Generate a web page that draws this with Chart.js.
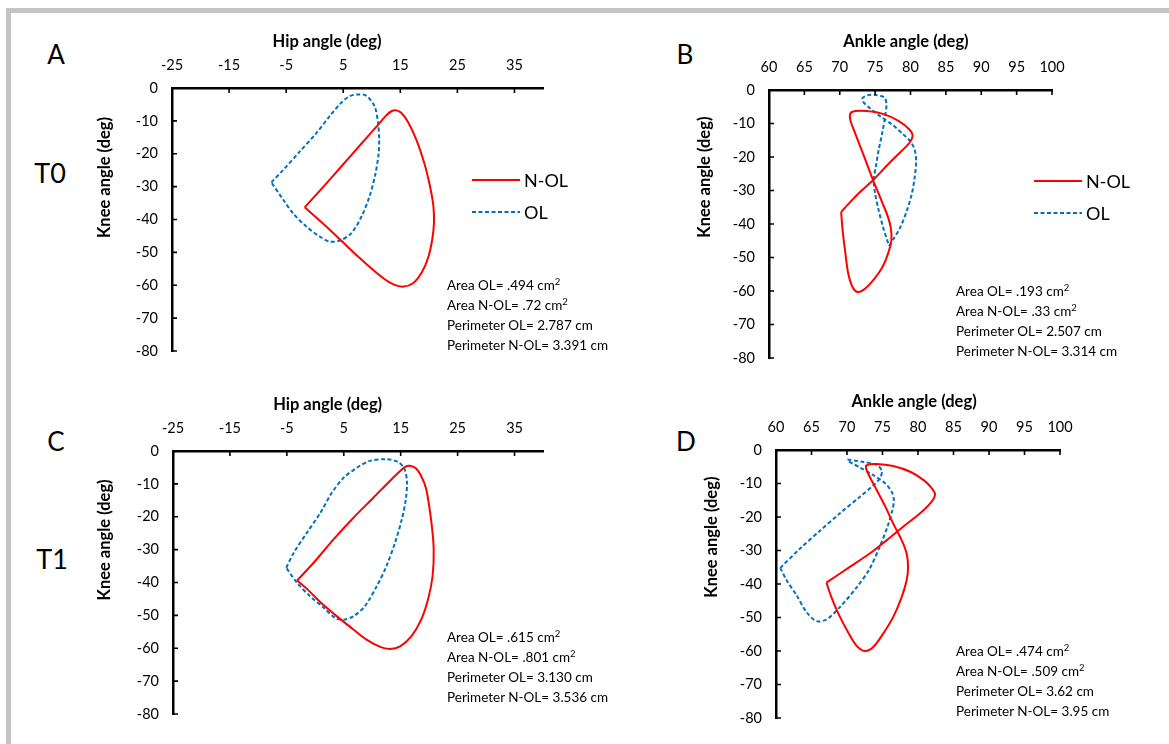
<!DOCTYPE html>
<html>
<head>
<meta charset="utf-8">
<script src="https://cdn.jsdelivr.net/npm/chart.js@4.4.1/dist/chart.umd.min.js"></script>
<style>
  body { margin: 0; background: #fff; font-family: Lato, "Open Sans", sans-serif; color: #000; }
  #fig { position: relative; width: 1169px; height: 744px; overflow: hidden; background: #fff; }
  .frame { position: absolute; background: #c4c4c4; }
  canvas { position: absolute; }
  .abs { position: absolute; white-space: nowrap; }
  .letter { font-size: 26px; line-height: 1; transform: translate(-50%, -50%); }
  .stats { font-size: 13.5px; line-height: 20px; }
  .stats sup { font-size: 9.5px; line-height: 0; vertical-align: 5px; }
  .leg { font-size: 18px; line-height: 1; transform: translateY(-50%); }
</style>
</head>
<body>
<div id="fig">
  <div class="frame" style="left:6px;top:8px;width:1163px;height:5px"></div>
  <div class="frame" style="left:6px;top:8px;width:5px;height:736px"></div>

  <canvas id="chartA"></canvas>
  <canvas id="chartB"></canvas>
  <canvas id="chartC"></canvas>
  <canvas id="chartD"></canvas>

  <div class="abs letter" style="left:56px;top:54px">A</div>
  <div class="abs letter" style="left:685px;top:54px">B</div>
  <div class="abs letter" style="left:56px;top:441px">C</div>
  <div class="abs letter" style="left:686px;top:441px">D</div>
  <div class="abs letter" style="left:50px;top:172px;font-size:27px">T0</div>
  <div class="abs letter" style="left:52px;top:558px;font-size:27px">T1</div>

  <div id="legendA"></div>
  <div id="legendB"></div>
  <div id="statsA" class="abs stats" style="left:447px;top:275px"></div>
  <div id="statsB" class="abs stats" style="left:956px;top:281px"></div>
  <div id="statsC" class="abs stats" style="left:447px;top:627px"></div>
  <div id="statsD" class="abs stats" style="left:956px;top:641px"></div>
</div>

<script>
// tick labels
let hipTicks = [-25, -15, -5, 5, 15, 25, 35];
let ankleTicks = [60, 65, 70, 75, 80, 85, 90, 95, 100];
let kneeTicks = [0, -10, -20, -30, -40, -50, -60, -70, -80];

// [hip or ankle angle, knee angle]; each loop starts at its corner
let hipT0_NOL = [
  [-1.75, -36.3], [1.5, -30.1], [4.7, -23.8], [7.9, -17.5], [11.1, -11.2], [12.5, -8.4],
  [13.5, -7.0], [14.3, -6.8], [15.2, -7.6], [16.3, -10.2], [17.8, -15.7], [19.2, -22.8],
  [20.2, -29.9], [20.8, -36.0], [20.9, -41.0], [20.6, -46.0], [19.9, -51.5], [18.8, -56.0],
  [17.3, -59.3], [15.6, -60.4], [14.0, -59.9], [12.2, -58.1], [10.2, -55.3], [7.3, -50.8],
  [4.4, -46.0], [1.5, -41.3],
];
let hipT0_OL = [
  [-7.6, -28.7], [-5.5, -24.9], [-2.6, -19.3], [0.3, -13.7], [2.6, -8.6], [4.7, -4.4],
  [6.1, -2.5], [7.3, -2.0], [9.0, -2.3], [10.5, -5.6], [11.1, -10.7], [11.3, -15.7],
  [11.2, -20.0], [10.6, -26.5], [9.6, -33.0], [8.2, -39.1], [6.4, -44.2], [4.4, -46.4],
  [2.6, -46.7], [0.9, -45.2], [-1.5, -42.1], [-3.8, -38.1], [-5.5, -34.0],
];
let ankleT0_NOL = [
  [70.2, -36.4], [70.4, -41.8], [70.8, -48.8], [71.2, -54.8], [71.8, -58.8], [72.5, -60.3],
  [73.4, -59.6], [74.8, -56.6], [76.0, -53.0], [76.8, -49.0], [77.3, -44.8], [77.2, -41.0],
  [76.7, -37.2], [76.0, -33.6], [75.4, -30.4], [74.8, -27.4], [73.9, -22.4], [73.0, -17.4],
  [72.1, -12.5], [71.5, -9.0], [71.5, -7.0], [72.2, -6.3], [73.8, -6.3], [76.2, -7.2],
  [78.3, -9.2], [79.8, -11.7], [80.3, -13.6], [79.8, -15.9], [78.3, -19.1], [76.6, -22.7],
  [74.8, -26.7], [72.9, -30.4], [71.5, -33.4],
];
let ankleT0_OL = [
  [77.0, -46.5], [77.5, -44.8], [78.6, -40.8], [79.5, -35.9], [80.2, -30.9], [80.6, -25.9],
  [80.8, -21.4], [80.6, -17.9], [80.0, -15.4], [78.8, -12.9], [77.4, -10.3], [75.7, -7.8],
  [74.3, -5.5], [73.4, -3.8], [73.2, -2.5], [73.9, -1.6], [75.0, -1.5], [76.3, -2.2],
  [76.6, -4.2], [76.4, -8.0], [76.0, -12.9], [75.5, -17.9], [75.1, -22.9], [74.8, -26.9],
  [75.0, -30.9], [75.5, -35.9], [76.1, -40.8], [76.7, -44.8],
];
let hipT1_NOL = [
  [-3.2, -39.4], [-0.3, -34.0], [3.2, -26.9], [6.7, -20.3], [10.2, -14.2], [13.1, -9.1],
  [14.9, -6.1], [15.8, -4.8], [16.6, -4.5], [17.6, -5.2], [18.6, -7.6], [19.5, -11.7],
  [20.4, -21.8], [20.8, -30.0], [20.6, -38.1], [19.8, -45.2], [18.6, -51.3], [16.9, -56.3],
  [14.9, -59.4], [13.1, -60.2], [11.4, -59.6], [9.0, -57.4], [6.7, -54.3], [3.8, -50.3],
  [0.9, -46.0], [-1.2, -42.4],
];
let hipT1_OL = [
  [-5.1, -35.5], [-3.8, -31.0], [-1.5, -24.9], [0.9, -18.8], [2.9, -12.7], [5.0, -8.1],
  [7.3, -5.1], [9.6, -3.0], [12.5, -2.5], [14.6, -3.4], [15.7, -5.6], [16.1, -9.5],
  [15.9, -14.7], [15.2, -20.8], [14.0, -27.9], [12.5, -35.0], [10.8, -41.1], [8.7, -47.2],
  [6.7, -50.3], [5.0, -51.3], [3.5, -50.8], [1.5, -47.7], [-0.9, -44.2], [-3.2, -40.1],
];
let ankleT1_NOL = [
  [67.1, -39.6], [67.8, -43.9], [68.8, -48.9], [70.0, -53.8], [71.3, -58.3], [72.5, -60.0],
  [73.7, -58.8], [75.1, -54.8], [76.5, -49.9], [77.7, -43.9], [78.4, -38.9], [78.6, -34.9],
  [78.4, -30.9], [77.7, -26.9], [76.5, -21.9], [75.4, -16.9], [74.2, -12.0], [73.2, -8.0],
  [72.7, -5.5], [72.8, -4.5], [74.2, -4.2], [76.5, -4.8], [78.9, -6.5], [80.8, -9.0],
  [81.9, -11.3], [82.4, -13.2], [81.9, -15.5], [80.3, -18.9], [77.9, -22.9], [75.6, -26.9],
  [73.2, -30.9], [70.4, -34.9],
];
let ankleT1_OL = [
  [60.6, -35.2], [61.5, -38.9], [62.9, -43.4], [64.3, -48.4], [65.7, -51.1], [67.1, -50.6],
  [69.0, -46.9], [71.4, -40.9], [73.2, -35.4], [74.6, -28.9], [75.7, -22.9], [76.4, -17.9],
  [76.6, -14.8], [76.3, -12.5], [75.4, -10.0], [73.7, -7.5], [71.8, -5.2], [70.05, -3.0],
  [72.3, -3.6], [74.2, -4.5], [74.9, -6.2], [74.7, -8.2], [73.9, -10.2], [71.8, -14.0],
  [69.0, -18.9], [66.2, -24.1], [63.4, -29.4],
];

// loop area / perimeter notes (^2 becomes a superscript)
let statsA = ["Area OL= .494 cm^2", "Area N-OL= .72 cm^2", "Perimeter OL= 2.787 cm", "Perimeter N-OL= 3.391 cm"];
let statsB = ["Area OL= .193 cm^2", "Area N-OL= .33 cm^2", "Perimeter OL= 2.507 cm", "Perimeter N-OL= 3.314 cm"];
let statsC = ["Area OL= .615 cm^2", "Area N-OL= .801 cm^2", "Perimeter OL= 3.130 cm", "Perimeter N-OL= 3.536 cm"];
let statsD = ["Area OL= .474 cm^2", "Area N-OL= .509 cm^2", "Perimeter OL= 3.62 cm", "Perimeter N-OL= 3.95 cm"];

let RED = "#ff0000";
let BLUE = "#0070c0";

// small tick marks pointing into the plot, like the original
let innerTicks = {
  id: "innerTicks",
  afterDraw(chart) {
    let { ctx, chartArea, scales } = chart;
    ctx.save();
    ctx.strokeStyle = "#000";
    ctx.lineWidth = 1.6;
    ctx.beginPath();
    scales.x.ticks.forEach((t) => {
      let px = scales.x.getPixelForValue(t.value);
      if (px > chartArea.left + 2) {
        ctx.moveTo(px, chartArea.top);
        ctx.lineTo(px, chartArea.top + 5);
      }
    });
    scales.y.ticks.forEach((t) => {
      let py = scales.y.getPixelForValue(t.value);
      if (py > chartArea.top + 2) {
        ctx.moveTo(chartArea.left, py);
        ctx.lineTo(chartArea.left + 5, py);
      }
    });
    ctx.stroke();
    ctx.restore();
  },
};

// axis titles: not centred on the axes in the original, so placed by hand
let axisTitles = {
  id: "axisTitles",
  afterDraw(chart, args, opts) {
    let { ctx, chartArea } = chart;
    let w = chartArea.right - chartArea.left;
    let h = chartArea.bottom - chartArea.top;
    ctx.save();
    ctx.font = "bold 16.5px Lato";
    ctx.fillStyle = "#000";
    ctx.textAlign = "center";
    ctx.textBaseline = "middle";
    ctx.fillText(opts.x, chartArea.left + opts.xFrac * w, chartArea.top - opts.xGap);
    ctx.translate(chartArea.left - opts.yGap, chartArea.top + opts.yFrac * h);
    ctx.rotate(-Math.PI / 2);
    ctx.fillText(opts.y, 0, 0);
    ctx.restore();
  },
};

// chart area wanted: A 172..543 x 88..351, B 769..1052 x 90..358,
// C 173..543 x 451..714, D 776..1060 x 450..718 (padding leaves room for edge labels)
renderPanel("#chartA", { left: 95, top: 26, w: 478, h: 351, yW: 77, xH: 62, padR: 30, padB: 26 },
  hipTicks, -25, 40, { x: "Hip angle (deg)", xFrac: 0.418, xGap: 46, y: "Knee angle (deg)", yFrac: 0.34, yGap: 67.5 },
  hipT0_NOL, hipT0_OL);
renderPanel("#chartB", { left: 696, top: 28, w: 386, h: 356, yW: 73, xH: 62, padR: 30, padB: 26 },
  ankleTicks, 60, 100, { x: "Ankle angle (deg)", xFrac: 0.484, xGap: 48, y: "Knee angle (deg)", yFrac: 0.325, yGap: 64 },
  ankleT0_NOL, ankleT0_OL);
renderPanel("#chartC", { left: 96, top: 389, w: 477, h: 351, yW: 77, xH: 62, padR: 30, padB: 26 },
  hipTicks, -25, 40, { x: "Hip angle (deg)", xFrac: 0.418, xGap: 46, y: "Knee angle (deg)", yFrac: 0.338, yGap: 68.5 },
  hipT1_NOL, hipT1_OL);
renderPanel("#chartD", { left: 703, top: 388, w: 387, h: 356, yW: 73, xH: 62, padR: 30, padB: 26 },
  ankleTicks, 60, 100, { x: "Ankle angle (deg)", xFrac: 0.486, xGap: 48, y: "Knee angle (deg)", yFrac: 0.325, yGap: 64 },
  ankleT1_NOL, ankleT1_OL);

renderLegend("#legendA", 472, 180);
renderLegend("#legendB", 1034, 181);
renderStats("#statsA", statsA);
renderStats("#statsB", statsB);
renderStats("#statsC", statsC);
renderStats("#statsD", statsD);

function toPoints(loop) {
  // close the loop by going back to the first point
  return loop.concat([loop[0]]).map((p) => ({ x: p[0], y: p[1] }));
}

function renderPanel(id, box, xTicks, xMin, xMax, titles, nol, ol) {
  let cv = document.querySelector(id);
  cv.width = box.w;
  cv.height = box.h;
  cv.style.left = box.left + "px";
  cv.style.top = box.top + "px";

  let tickFont = { family: "Lato", size: 14.5 };

  new Chart(cv, {
    type: "scatter",
    data: {
      datasets: [
        {
          label: "N-OL",
          data: toPoints(nol),
          showLine: true,
          borderColor: RED,
          borderWidth: 2,
          pointRadius: 0,
          tension: 0.3,
          fill: false,
        },
        {
          label: "OL",
          data: toPoints(ol),
          showLine: true,
          borderColor: BLUE,
          borderWidth: 2,
          borderDash: [4, 2.5],
          pointRadius: 0,
          tension: 0.3,
          fill: false,
        },
      ],
    },
    plugins: [innerTicks, axisTitles],
    options: {
      responsive: false,
      animation: false,
      events: [],
      layout: { padding: { left: 0, top: 0, right: box.padR, bottom: box.padB } },
      plugins: {
        legend: { display: false },
        tooltip: { enabled: false },
        axisTitles: titles,
      },
      scales: {
        x: {
          type: "linear",
          position: "top",
          min: xMin,
          max: xMax,
          afterBuildTicks: (s) => { s.ticks = xTicks.map((v) => ({ value: v })); },
          afterFit: (s) => { s.height = box.xH; },
          grid: { display: false, drawTicks: false },
          border: { display: true, color: "#000", width: 2.5 },
          ticks: { color: "#000", font: tickFont, padding: 14, maxRotation: 0, autoSkip: false },
        },
        y: {
          type: "linear",
          min: -80,
          max: 0,
          afterBuildTicks: (s) => { s.ticks = kneeTicks.map((v) => ({ value: v })); },
          afterFit: (s) => { s.width = box.yW; },
          grid: { display: false, drawTicks: false },
          border: { display: true, color: "#000", width: 2.5 },
          ticks: { color: "#000", font: tickFont, padding: 14, autoSkip: false },
        },
      },
    },
  });
}

function renderLegend(id, x, y) {
  let el = document.querySelector(id);
  el.innerHTML =
    '<svg class="abs" style="left:' + x + 'px;top:' + (y - 3) + 'px" width="48" height="6">' +
    '<line x1="0" y1="3" x2="48" y2="3" stroke="' + RED + '" stroke-width="2"/></svg>' +
    '<div class="abs leg" style="left:' + (x + 52) + 'px;top:' + y + 'px">N-OL</div>' +
    '<svg class="abs" style="left:' + x + 'px;top:' + (y + 29) + 'px" width="48" height="6">' +
    '<line x1="0" y1="3" x2="48" y2="3" stroke="' + BLUE + '" stroke-width="2" stroke-dasharray="4 2.5"/></svg>' +
    '<div class="abs leg" style="left:' + (x + 52) + 'px;top:' + (y + 32) + 'px">OL</div>';
}

function renderStats(id, lines) {
  document.querySelector(id).innerHTML = lines.map((s) => s.replace("^2", "<sup>2</sup>")).join("<br>");
}
</script>
</body>
</html>
